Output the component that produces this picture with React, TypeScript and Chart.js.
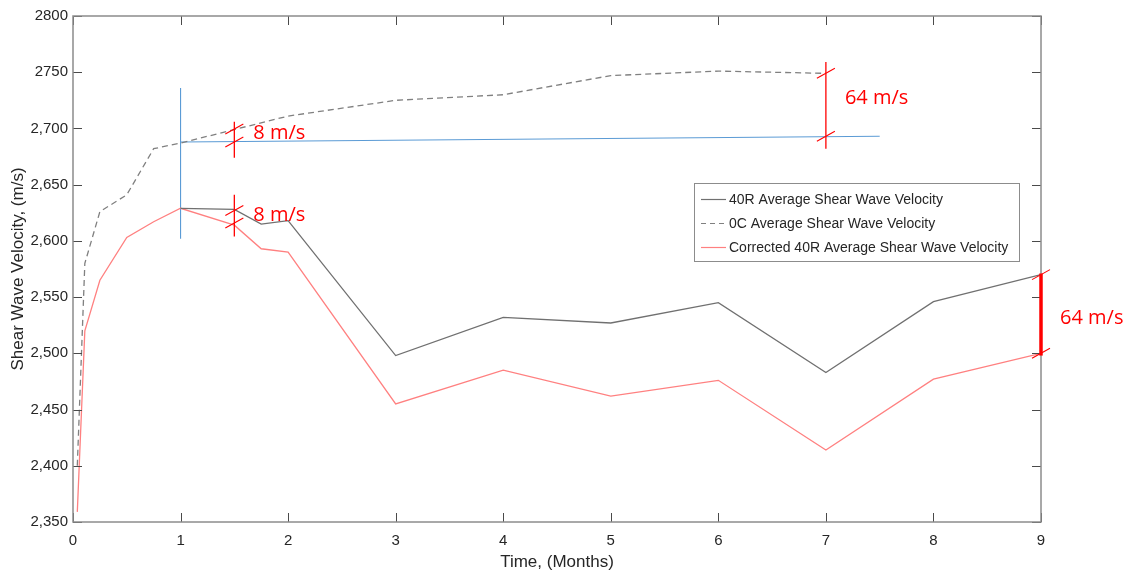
import React, { useEffect, useRef } from "react";
import { Chart, registerables } from "chart.js";

Chart.register(...registerables);

// ---- data ----
const corrTime = [0.04, 0.11, 0.25, 0.5, 0.75, 1, 1.5, 1.75, 2, 3, 4, 5, 6, 7, 8, 9];
const corrVel = [2359, 2520, 2565, 2603, 2617, 2629, 2614, 2593, 2590, 2455, 2485, 2462, 2476, 2414, 2477, 2500];

const r40Time = [1, 1.5, 1.75, 2, 3, 4, 5, 6, 7, 8, 9];
const r40Vel = [2629, 2628, 2615, 2618, 2498, 2532, 2527, 2545, 2483, 2546, 2570];

const c0Time = [0.04, 0.11, 0.25, 0.5, 0.75, 1, 1.5, 2, 3, 4, 5, 6, 7];
const c0Vel = [2400, 2580, 2626, 2641, 2682, 2687, 2699, 2711, 2725, 2730, 2747, 2751, 2749];

const blueHTime = [1, 7.5];
const blueHVel = [2688, 2693];
const blueVTime = [1, 1];
const blueVVel = [2602, 2736];

const seriesNames = [
  "40R Average Shear Wave Velocity",
  "0C Average Shear Wave Velocity",
  "Corrected 40R Average Shear Wave Velocity",
];

const xTicks = [0, 1, 2, 3, 4, 5, 6, 7, 8, 9];
const yTickValues = [2350, 2400, 2450, 2500, 2550, 2600, 2650, 2700, 2750, 2800];
const yTickLabels = ["2,350", "2,400", "2,450", "2,500", "2,550", "2,600", "2,650", "2,700", "2750", "2800"];

// difference brackets (data units)
const bracketTime = [1.5, 1.5, 7, 9];
const bracketFrom = [2706, 2641, 2759, 2571];
const bracketTo = [2674, 2604, 2682, 2498];
const bracketMarkA = [2699.5, 2627, 2749, 2570];
const bracketMarkB = [2688, 2616, 2693, 2500];
const bracketLabelVel = [2696, 2623, 2727, 2531];
const bracketLabels = ["8 m/s", "8 m/s", "64 m/s", "64 m/s"];

const toXY = (xs: number[], ys: number[]) => xs.map((x, i) => ({ x, y: ys[i] }));

const TEXT = "#262626";
const C_40R = "#707070";
const C_0C = "#808080";
const C_CORR = "#ff8080";
const C_BLUE = "#5b9bd5";
const C_ANNO = "#ff0000";

const matlabPlugin = {
  id: "matlabBox",
  afterDatasetsDraw(chart: any) {
    const { ctx, chartArea: a, scales } = chart;
    const x = scales.x;
    const y = scales.y;
    ctx.save();
    // inward ticks
    ctx.strokeStyle = "#4a4a4a";
    ctx.lineWidth = 1;
    ctx.beginPath();
    xTicks.forEach((t) => {
      const px = Math.round(x.getPixelForValue(t)) + 0.5;
      ctx.moveTo(px, a.bottom);
      ctx.lineTo(px, a.bottom - 9);
      ctx.moveTo(px, a.top);
      ctx.lineTo(px, a.top + 9);
    });
    yTickValues.forEach((v) => {
      const py = Math.round(y.getPixelForValue(v)) + 0.5;
      ctx.moveTo(a.left, py);
      ctx.lineTo(a.left + 9, py);
      ctx.moveTo(a.right, py);
      ctx.lineTo(a.right - 9, py);
    });
    ctx.stroke();
    // box
    ctx.strokeStyle = "#8c8c8c";
    ctx.lineWidth = 1.5;
    ctx.strokeRect(Math.round(a.left), Math.round(a.top), Math.round(a.right - a.left), Math.round(a.bottom - a.top));

    // brackets
    ctx.strokeStyle = C_ANNO;
    ctx.fillStyle = C_ANNO;
    bracketTime.forEach((t, i) => {
      const px = x.getPixelForValue(t);
      ctx.lineWidth = i === 3 ? 3.5 : 1.3;
      ctx.beginPath();
      ctx.moveTo(px, y.getPixelForValue(bracketFrom[i]));
      ctx.lineTo(px, y.getPixelForValue(bracketTo[i]));
      ctx.stroke();
      ctx.lineWidth = 1.1;
      [bracketMarkA[i], bracketMarkB[i]].forEach((v) => {
        const py = y.getPixelForValue(v);
        ctx.beginPath();
        ctx.moveTo(px - 9, py + 5);
        ctx.lineTo(px + 9, py - 5);
        ctx.stroke();
      });
      ctx.font = "20px 'Open Sans', 'Noto Sans', sans-serif";
      ctx.textAlign = "left";
      ctx.textBaseline = "middle";
      ctx.fillText(bracketLabels[i], px + 19, y.getPixelForValue(bracketLabelVel[i]));
    });

    // legend
    const lx = 694, ly = 183, lw = 325, lh = 78;
    ctx.fillStyle = "#ffffff";
    ctx.fillRect(lx, ly, lw, lh);
    ctx.strokeStyle = "#8c8c8c";
    ctx.lineWidth = 1;
    ctx.strokeRect(lx + 0.5, ly + 0.5, lw, lh);
    const cols = [C_40R, C_0C, C_CORR];
    const dashes = [[], [5, 4], []];
    ctx.font = "14px 'Liberation Sans', Arial, sans-serif";
    ctx.textBaseline = "middle";
    ctx.textAlign = "left";
    seriesNames.forEach((name, i) => {
      const ry = ly + 16 + i * 24;
      ctx.strokeStyle = cols[i];
      ctx.lineWidth = 1.2;
      ctx.setLineDash(dashes[i]);
      ctx.beginPath();
      ctx.moveTo(701, ry + 0.5);
      ctx.lineTo(726, ry + 0.5);
      ctx.stroke();
      ctx.setLineDash([]);
      ctx.fillStyle = TEXT;
      ctx.fillText(name, 729, ry + 1);
    });
    ctx.restore();
  },
};

export default function App() {
  const ref = useRef<HTMLCanvasElement>(null);
  useEffect(() => {
    if (!ref.current) return;
    const chart = new Chart(ref.current, {
      type: "line",
      data: {
        datasets: [
          {
            label: seriesNames[0],
            data: toXY(r40Time, r40Vel),
            borderColor: C_40R,
            borderWidth: 1.3,
            pointRadius: 0,
            tension: 0,
          },
          {
            label: seriesNames[1],
            data: toXY(c0Time, c0Vel),
            borderColor: C_0C,
            borderWidth: 1.3,
            borderDash: [6, 4],
            pointRadius: 0,
            tension: 0,
          },
          {
            label: seriesNames[2],
            data: toXY(corrTime, corrVel),
            borderColor: C_CORR,
            borderWidth: 1.3,
            pointRadius: 0,
            tension: 0,
          },
          {
            label: "ref-h",
            data: toXY(blueHTime, blueHVel),
            borderColor: C_BLUE,
            borderWidth: 1.1,
            pointRadius: 0,
          },
          {
            label: "ref-v",
            data: toXY(blueVTime, blueVVel),
            borderColor: C_BLUE,
            borderWidth: 1.1,
            pointRadius: 0,
          },
        ],
      },
      options: {
        animation: false,
        responsive: false,
        parsing: true,
        layout: { padding: { top: 16, right: 94, bottom: 0, left: 0 } },
        plugins: { legend: { display: false }, tooltip: { enabled: false } },
        scales: {
          x: {
            type: "linear",
            min: 0,
            max: 9,
            afterFit: (s: any) => {
              s.height = 55;
            },
            afterBuildTicks: (s: any) => {
              s.ticks = xTicks.map((v) => ({ value: v }));
            },
            grid: { display: false, drawTicks: false },
            border: { display: false },
            ticks: {
              color: TEXT,
              padding: 10,
              maxRotation: 0,
              font: { family: "'Liberation Sans', Arial, sans-serif", size: 15 },
              callback: (v: any) => String(v),
            },
            title: {
              display: true,
              text: "Time, (Months)",
              color: TEXT,
              font: { family: "'Liberation Sans', Arial, sans-serif", size: 17, lineHeight: 1.2 },
              padding: { top: 0, bottom: 4 },
            },
          },
          y: {
            type: "linear",
            min: 2350,
            max: 2800,
            afterFit: (s: any) => {
              s.width = 73;
            },
            afterBuildTicks: (s: any) => {
              s.ticks = yTickValues.map((v) => ({ value: v }));
            },
            grid: { display: false, drawTicks: false },
            border: { display: false },
            ticks: {
              color: TEXT,
              padding: 5,
              font: { family: "'Liberation Sans', Arial, sans-serif", size: 15 },
              callback: (v: any) => {
                const i = yTickValues.indexOf(Number(v));
                return i >= 0 ? yTickLabels[i] : "";
              },
            },
            title: {
              display: true,
              text: "Shear Wave Velocity, (m/s)",
              color: TEXT,
              font: { family: "'Liberation Sans', Arial, sans-serif", size: 17, lineHeight: 1.2 },
              padding: { top: 8, bottom: 0 },
            },
          },
        },
      },
      plugins: [matlabPlugin],
    });
    return () => chart.destroy();
  }, []);
  return (
    <div style={{ position: "fixed", left: 0, top: 0, width: 1135, height: 577, background: "#fff" }}>
      <canvas ref={ref} width={1135} height={577} />
    </div>
  );
}
